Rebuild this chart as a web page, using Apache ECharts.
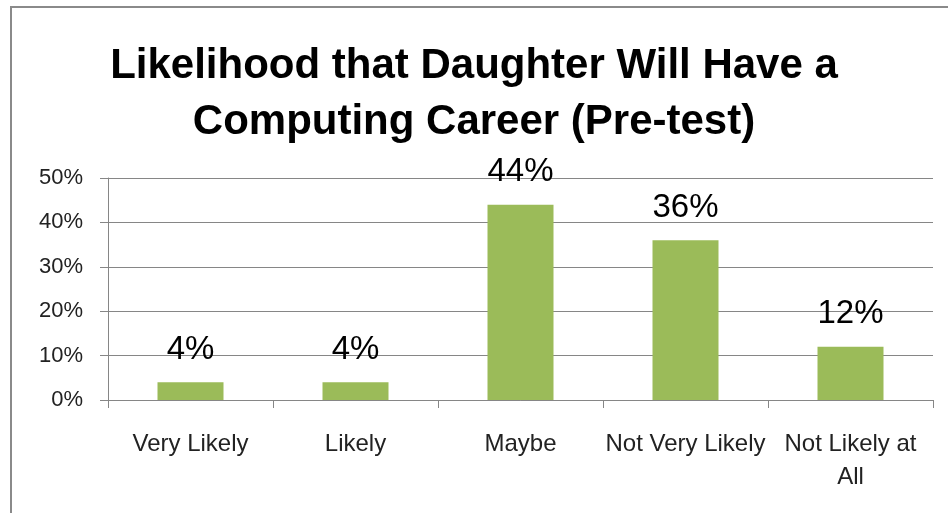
<!DOCTYPE html>
<html>
<head>
<meta charset="utf-8">
<script src="https://cdn.jsdelivr.net/npm/echarts@6/dist/echarts.min.js"></script>
<style>
  html, body { margin: 0; padding: 0; background: #fff; }
  #chart { width: 948px; height: 513px; }
</style>
</head>
<body>
<div id="chart"></div>
<script>
// categories and values
const categories = ['Very Likely', 'Likely', 'Maybe', 'Not Very Likely', 'Not Likely at\nAll']
const values = [4, 4, 44, 36, 12]
const yTicks = [0, 10, 20, 30, 40, 50]

const font = '"Liberation Sans", Arial, sans-serif'
const chart = echarts.init(document.getElementById('chart'))

chart.setOption({
  animation: false,
  title: {
    text: 'Likelihood that Daughter Will Have a\nComputing Career (Pre-test)',
    left: 'center',
    top: 33,
    textStyle: {
      fontFamily: font,
      fontWeight: 'bold',
      fontSize: 42,
      lineHeight: 56,
      color: '#000'
    }
  },
  graphic: [{
    type: 'rect',
    shape: { x: 11, y: 7, width: 960, height: 540 },
    style: { fill: 'none', stroke: '#8a8a8a', lineWidth: 2 },
    silent: true
  }],
  grid: { left: 108, right: 15, top: 178, bottom: 113 },
  xAxis: {
    type: 'category',
    data: categories,
    axisLine: { lineStyle: { color: '#868686' } },
    axisTick: { show: true, length: 8, lineStyle: { color: '#868686' } },
    axisLabel: {
      interval: 0,
      margin: 28,
      fontFamily: font,
      fontSize: 24,
      lineHeight: 33,
      color: '#222'
    }
  },
  yAxis: {
    type: 'value',
    min: yTicks[0],
    max: yTicks[yTicks.length - 1],
    interval: 10,
    axisLine: { show: true, lineStyle: { color: '#868686' } },
    axisTick: { show: true, length: 8, lineStyle: { color: '#868686' } },
    splitLine: { lineStyle: { color: '#868686' } },
    axisLabel: {
      formatter: '{value}%',
      margin: 25,
      fontFamily: font,
      fontSize: 22,
      color: '#222'
    }
  },
  series: [{
    type: 'bar',
    data: values,
    barWidth: '40%',
    itemStyle: { color: '#9bbb59' },
    label: {
      show: true,
      position: 'top',
      distance: 16,
      formatter: '{c}%',
      fontFamily: font,
      fontSize: 33,
      color: '#000'
    }
  }]
})
</script>
</body>
</html>
